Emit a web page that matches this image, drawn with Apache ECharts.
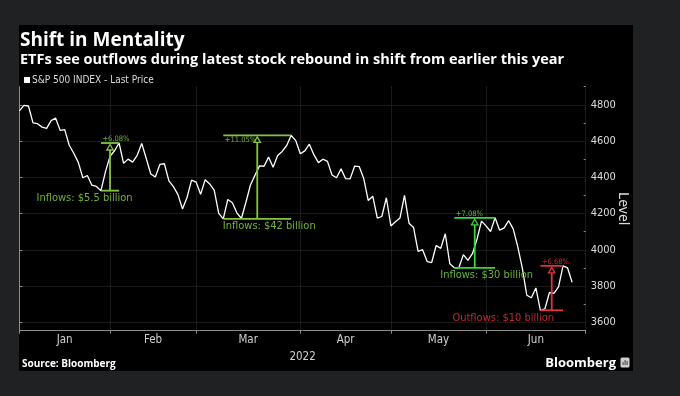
<!DOCTYPE html>
<html>
<head>
<meta charset="utf-8">
<script src="https://cdn.jsdelivr.net/npm/echarts@6/dist/echarts.min.js"></script>
<style>
html, body { margin: 0; padding: 0; background: #1f2123; }
#main { width: 680px; height: 396px; }
</style>
</head>
<body>
<div id="main"></div>
<script>
// trading days shown on the axis (Dec 31 2021 .. Jul 1 2022)
var dates = [
  '2021-12-31',
  '2022-01-03','2022-01-04','2022-01-05','2022-01-06','2022-01-07','2022-01-10','2022-01-11','2022-01-12','2022-01-13','2022-01-14',
  '2022-01-18','2022-01-19','2022-01-20','2022-01-21','2022-01-24','2022-01-25','2022-01-26','2022-01-27','2022-01-28','2022-01-31',
  '2022-02-01','2022-02-02','2022-02-03','2022-02-04','2022-02-07','2022-02-08','2022-02-09','2022-02-10','2022-02-11','2022-02-14',
  '2022-02-15','2022-02-16','2022-02-17','2022-02-18','2022-02-22','2022-02-23','2022-02-24','2022-02-25','2022-02-28',
  '2022-03-01','2022-03-02','2022-03-03','2022-03-04','2022-03-07','2022-03-08','2022-03-09','2022-03-10','2022-03-11','2022-03-14',
  '2022-03-15','2022-03-16','2022-03-17','2022-03-18','2022-03-21','2022-03-22','2022-03-23','2022-03-24','2022-03-25','2022-03-28',
  '2022-03-29','2022-03-30','2022-03-31',
  '2022-04-01','2022-04-04','2022-04-05','2022-04-06','2022-04-07','2022-04-08','2022-04-11','2022-04-12','2022-04-13','2022-04-14',
  '2022-04-18','2022-04-19','2022-04-20','2022-04-21','2022-04-22','2022-04-25','2022-04-26','2022-04-27','2022-04-28','2022-04-29',
  '2022-05-02','2022-05-03','2022-05-04','2022-05-05','2022-05-06','2022-05-09','2022-05-10','2022-05-11','2022-05-12','2022-05-13',
  '2022-05-16','2022-05-17','2022-05-18','2022-05-19','2022-05-20','2022-05-23','2022-05-24','2022-05-25','2022-05-26','2022-05-27',
  '2022-05-31',
  '2022-06-01','2022-06-02','2022-06-03','2022-06-06','2022-06-07','2022-06-08','2022-06-09','2022-06-10','2022-06-13','2022-06-14',
  '2022-06-15','2022-06-16','2022-06-17','2022-06-21','2022-06-22','2022-06-23','2022-06-24','2022-06-27','2022-06-28','2022-06-29',
  '2022-06-30',
  '2022-07-01'
];
// S&P 500 close, Dec 31 .. Jun 28
var prices = [
  4766.18,
  4796.56, 4793.54, 4700.58, 4696.05, 4677.03, 4670.29, 4713.07, 4726.35, 4659.03, 4662.85,
  4577.11, 4532.76, 4482.73, 4397.94, 4410.13, 4356.45, 4349.93, 4326.51, 4431.85, 4515.55,
  4546.54, 4589.38, 4477.44, 4500.53, 4483.87, 4521.54, 4587.18, 4504.08, 4418.64, 4401.67,
  4471.07, 4475.01, 4380.26, 4348.87, 4304.76, 4225.50, 4288.70, 4384.65, 4373.94,
  4306.26, 4386.54, 4363.49, 4328.87, 4201.09, 4170.70, 4277.88, 4259.52, 4204.31, 4173.11,
  4262.45, 4357.86, 4411.67, 4463.12, 4461.18, 4511.61, 4456.24, 4520.16, 4543.06, 4575.52,
  4631.60, 4602.45, 4530.41,
  4545.86, 4582.64, 4525.12, 4481.15, 4500.21, 4488.28, 4412.53, 4397.45, 4446.59, 4392.59,
  4391.69, 4462.21, 4459.45, 4393.66, 4271.78, 4296.12, 4175.20, 4183.96, 4287.50, 4131.93,
  4155.38, 4175.48, 4300.17, 4146.87, 4123.34, 3991.24, 4001.05, 3935.18, 3930.08, 4023.89,
  4008.01, 4088.85, 3923.68, 3900.79, 3901.36, 3973.75, 3941.48, 3978.73, 4057.84, 4158.24,
  4132.15,
  4101.23, 4176.82, 4108.54, 4121.43, 4160.68, 4115.77, 4017.82, 3900.86, 3749.63, 3735.48,
  3789.99, 3666.77, 3674.84, 3764.79, 3759.89, 3795.73, 3911.74, 3900.11, 3821.55
];
var monthNames = ['Jan', 'Feb', 'Mar', 'Apr', 'May', 'Jun'];
var yLabels = [3600, 3800, 4000, 4200, 4400, 4600, 4800];
var yMinor = [3700, 3900, 4100, 4300, 4500, 4700, 4900];

// flow annotations: low day -> high day
var annFrom = ['2022-01-27', '2022-03-08', '2022-05-19', '2022-06-16'];
var annTo = ['2022-02-02', '2022-03-29', '2022-06-02', '2022-06-24'];
var annPct = ['+6.08%', '+11.05%', '+7.08%', '+6.68%'];
var annText = ['Inflows: $5.5 billion', 'Inflows: $42 billion', 'Inflows: $30 billion', 'Outflows: $10 billion'];

// styling of annotations
var annColor = ['#86c43f', '#86c43f', '#36d936', '#e2323c'];
var annTextColor = ['#72b23a', '#72b23a', '#66b43a', '#c4262d'];
var annTextDx = [-25.5, 12, 12, -48.5];
var annPctBelow = [false, true, false, false];

var narrow = "'Liberation Sans Narrow', 'DejaVu Sans Condensed', Roboto, sans-serif";

// month separators (last trading day of each month), axis end for the last month
var changes = [];
for (var i = 0; i < dates.length - 1; i++) {
  if (dates[i].slice(5, 7) != dates[i + 1].slice(5, 7)) changes.push(i);
}
var monthTicks = changes.slice(0, -1).concat([dates.length - 1]);
var monthMids = [];
var midName = {};
for (var m = 0; m < monthTicks.length - 1; m++) {
  var mid = (monthTicks[m] + monthTicks[m + 1]) / 2;
  monthMids.push(mid);
  midName[String(mid)] = monthNames[m];
}

var annData = annFrom.map(function (d, k) {
  var i0 = dates.indexOf(d), i1 = dates.indexOf(annTo[k]);
  return [i0, i1, prices[i0], prices[i1]];
});

var myChart = echarts.init(document.getElementById('main'));
var option = {
  backgroundColor: '#1f2123',
  animation: false,
  title: [
    {
      text: 'Shift in Mentality', left: 15, top: 26,
      textStyle: { color: '#fff', fontSize: 19, fontWeight: 'bold', fontFamily: 'Open Sans' }
    },
    {
      text: 'ETFs see outflows during latest stock rebound in shift from earlier this year', left: 15, top: 47,
      textStyle: { color: '#fff', fontSize: 14.5, fontWeight: 'bold', fontFamily: 'Open Sans' }
    }
  ],
  legend: {
    data: ['S&P 500 INDEX - Last Price'],
    left: 19, top: 70,
    icon: 'rect', itemWidth: 6, itemHeight: 6, itemGap: 0,
    textStyle: { color: '#dcdcdc', fontSize: 10, fontFamily: narrow, padding: [0, 0, 0, -3] }
  },
  grid: { left: 19.4, right: 94.3, top: 86.7, bottom: 65.3 },
  xAxis: {
    type: 'value',
    min: 0,
    max: dates.length - 1,
    name: '2022',
    nameLocation: 'middle',
    nameGap: 10,
    nameTextStyle: { color: '#d0d0d0', fontSize: 11.5, fontFamily: narrow },
    axisLine: { lineStyle: { color: '#8c8c8c', width: 1 } },
    axisTick: { customValues: monthTicks, length: 3, lineStyle: { color: '#8c8c8c' } },
    axisLabel: {
      customValues: monthMids,
      margin: 3,
      color: '#d0d0d0', fontSize: 11.5, fontFamily: narrow,
      formatter: function (v) { return midName[String(v)] || ''; }
    },
    splitLine: { show: true, lineStyle: { color: '#333', type: [1, 1], width: 1 } }
  },
  yAxis: [
    {
      type: 'value',
      position: 'right',
      min: 3554,
      max: 4900,
      name: 'Level',
      nameLocation: 'middle',
      nameRotate: -90,
      nameGap: 30,
      nameMoveOverlap: false,
      nameTextStyle: { color: '#dcdcdc', fontSize: 14, fontFamily: 'Noto Sans' },
      axisLine: { show: true, lineStyle: { color: '#8c8c8c', width: 1 } },
      axisTick: { show: true, customValues: yLabels, length: 3, lineStyle: { color: '#8c8c8c' } },
      axisLabel: {
        customValues: yLabels, margin: 5, color: '#dcdcdc', fontSize: 11, fontFamily: narrow,
        formatter: function (v) { return String(v); }
      },
      splitLine: { show: true, lineStyle: { color: '#333', type: [1, 1], width: 1 } }
    },
    {
      type: 'value',
      position: 'right',
      min: 3554,
      max: 4900,
      axisLine: { show: false },
      axisTick: { show: true, inside: true, customValues: yMinor, length: 2, lineStyle: { color: '#8c8c8c' } },
      axisLabel: { show: false },
      splitLine: { show: false }
    }
  ],
  graphic: [
    { type: 'rect', z: -100, shape: { x: 19, y: 25, width: 614, height: 346 }, style: { fill: '#000' } },
    {
      type: 'text', x: 22, y: 364,
      style: { text: 'Source: Bloomberg', fill: '#fff', font: 'bold 10px "Open Sans"', verticalAlign: 'middle' }
    },
    {
      type: 'text', x: 616, y: 363,
      style: { text: 'Bloomberg', fill: '#fff', font: 'bold 13px "Open Sans"', align: 'right', verticalAlign: 'middle' }
    },
    { type: 'rect', shape: { x: 620.5, y: 357.5, width: 9, height: 10, r: 1.5 }, style: { fill: '#cfcfcf' } },
    { type: 'rect', shape: { x: 622.5, y: 362, width: 1.2, height: 3 }, style: { fill: '#555' } },
    { type: 'rect', shape: { x: 624.5, y: 360, width: 1.2, height: 5 }, style: { fill: '#555' } },
    { type: 'rect', shape: { x: 626.5, y: 361, width: 1.2, height: 4 }, style: { fill: '#555' } }
  ],
  series: [
    {
      name: 'S&P 500 INDEX - Last Price',
      type: 'line',
      data: prices.map(function (v, i) { return [i, v]; }),
      showSymbol: false,
      symbol: 'none',
      itemStyle: { color: '#fff' },
      lineStyle: { color: '#fff', width: 1.3 },
      z: 3
    },
    {
      type: 'custom',
      data: annData,
      encode: { x: [0, 1], y: [2, 3] },
      z: 4,
      renderItem: function (params, api) {
        var k = params.dataIndex;
        var c = annColor[k];
        var lo0 = api.coord([api.value(0), api.value(2)]);
        var lo1 = api.coord([api.value(1), api.value(2)]);
        var hi0 = api.coord([api.value(0), api.value(3)]);
        var hi1 = api.coord([api.value(1), api.value(3)]);
        var xm = (lo0[0] + lo1[0]) / 2;
        var yT = hi0[1];
        return {
          type: 'group',
          children: [
            { type: 'line', shape: { x1: lo0[0], y1: lo0[1], x2: lo1[0], y2: lo1[1] }, style: { stroke: c, lineWidth: 1.8 } },
            { type: 'line', shape: { x1: hi0[0], y1: yT, x2: hi1[0], y2: yT }, style: { stroke: c, lineWidth: 1.8 } },
            { type: 'line', shape: { x1: xm, y1: lo0[1], x2: xm, y2: yT + 7 }, style: { stroke: c, lineWidth: 1.8 } },
            {
              type: 'polygon',
              shape: { points: [[xm, yT + 1.5], [xm - 3.2, yT + 7], [xm + 3.2, yT + 7]] },
              style: { stroke: c, fill: '#000', lineWidth: 1.3 }
            },
            {
              type: 'text', x: hi0[0] + 1.5, y: annPctBelow[k] ? yT + 4.5 : yT - 4,
              style: { text: annPct[k], fill: annTextColor[k], font: '7.5px ' + narrow, align: 'left', verticalAlign: 'middle' }
            },
            {
              type: 'text', x: xm + annTextDx[k], y: lo0[1] + 7.5,
              style: { text: annText[k], fill: annTextColor[k], font: '11px ' + narrow, align: 'center', verticalAlign: 'middle' }
            }
          ]
        };
      }
    }
  ]
};
myChart.setOption(option);
</script>
</body>
</html>
